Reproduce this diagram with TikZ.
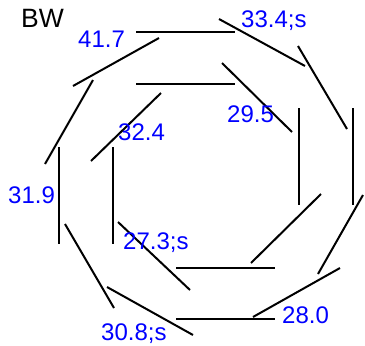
\documentclass[tikz,border=0pt]{standalone}
\usepackage{fontspec}
\setmainfont{Liberation Sans}
\begin{document}
\begin{tikzpicture}[x=1pt,y=-1pt,
  seg/.style={line width=2pt},
  lbl/.style={anchor=base west,inner sep=0pt,text=blue,font=\fontsize{24}{28}\selectfont},
  ttl/.style={anchor=base west,inner sep=0pt,text=black,font=\fontsize{26.5}{30}\selectfont}]
\useasboundingbox (0,0) rectangle (365,346);
% outer ring
\draw[seg] (136,32) -- (235,32);
\draw[seg] (219,19) -- (305,66);
\draw[seg] (298,46) -- (347,129);
\draw[seg] (353,108) -- (353,205);
\draw[seg] (363,195) -- (318,274);
\draw[seg] (340,268) -- (253,317);
\draw[seg] (176,319) -- (275,319);
\draw[seg] (107,287) -- (193,335);
\draw[seg] (65,224) -- (114,308);
\draw[seg] (59,147) -- (59,244);
\draw[seg] (45,164) -- (93,80);
\draw[seg] (73,86) -- (159,38);
% inner ring
\draw[seg] (136,84) -- (235,84);
\draw[seg] (222,63) -- (292,132);
\draw[seg] (299,108) -- (299,205);
\draw[seg] (321,194) -- (251,263);
\draw[seg] (176,268) -- (275,268);
\draw[seg] (118,222) -- (190,290);
\draw[seg] (113,147) -- (113,244);
\draw[seg] (91,161) -- (161,93);
% labels
\node[ttl] (bw) at (21,27) {BW};
\node[lbl] (l1) at (78,47) {41.7};
\node[lbl] (l2) at (241,27) {33.4;s};
\node[lbl] (l3) at (118,140) {32.4};
\node[lbl] (l4) at (227,122) {29.5};
\node[lbl] (l5) at (8,203) {31.9};
\node[lbl] (l6) at (123,249) {27.3;s};
\node[lbl] (l7) at (101,340) {30.8;s};
\node[lbl] (l8) at (282,323) {28.0};
\end{tikzpicture}
\end{document}
